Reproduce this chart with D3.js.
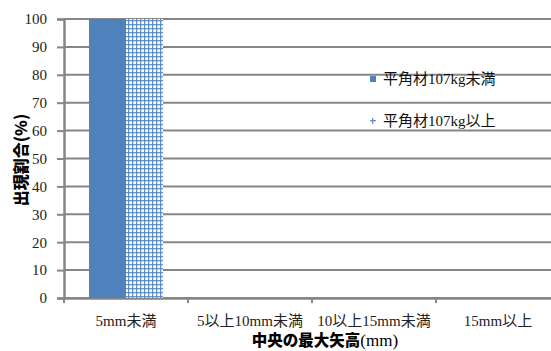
<!DOCTYPE html>
<html><head><meta charset="utf-8">
<script src="https://cdn.jsdelivr.net/npm/d3@7"></script>
<style>body{margin:0;background:#fff}svg{display:block}</style>
</head><body><svg id="c" width="551" height="351"></svg>
<script>
const categories = ["5mm未満", "5以上10mm未満", "10以上15mm未満", "15mm以上"];
const seriesNames = ["平角材107kg未満", "平角材107kg以上"];
const seriesA = [100, 0, 0, 0];
const seriesB = [100, 0, 0, 0];
const yTicks = [0, 10, 20, 30, 40, 50, 60, 70, 80, 90, 100];

(function(){
const svg = d3.select("#c");
const serif = '"Liberation Serif", "Noto Sans CJK JP", serif';
const cjk = '"Noto Sans CJK JP", sans-serif';
const grey = "#868686";
const blue = "#4f81bd";

const defs = svg.append("defs");
const pat = defs.append("pattern").attr("id","grid").attr("patternUnits","userSpaceOnUse")
  .attr("width",4).attr("height",4);
pat.append("rect").attr("width",4).attr("height",4).attr("fill","#fff");
pat.append("rect").attr("x",0).attr("y",0).attr("width",1.3).attr("height",4).attr("fill",blue).attr("opacity",0.85);
pat.append("rect").attr("x",0).attr("y",0).attr("width",4).attr("height",1.3).attr("fill",blue).attr("opacity",0.85);

const mL = 64, mR = 560, mT = 19, mB = 298;
const x = d3.scaleBand().domain(categories).range([mL, mR]);
const y = d3.scaleLinear().domain([0, 100]).range([mB, mT]);

svg.append("g").selectAll("line").data(yTicks).join("line")
  .attr("x1", mL).attr("x2", 551).attr("y1", d => y(d)).attr("y2", d => y(d))
  .attr("stroke", grey).attr("stroke-width", 2);

const yAxis = svg.append("g").attr("transform", `translate(${mL},0)`)
  .call(d3.axisLeft(y).tickValues(yTicks).tickSize(7).tickPadding(10));
yAxis.select(".domain").attr("stroke", grey).attr("stroke-width", 2.5);
yAxis.selectAll(".tick line").attr("stroke", grey).attr("stroke-width", 2);
yAxis.selectAll("text").style("font-family", serif).style("font-size", "15px").attr("fill", "#222");

const xAxis = svg.append("g").attr("transform", `translate(0,${mB})`)
  .call(d3.axisBottom(x).tickSize(0).tickPadding(17));
xAxis.select(".domain").attr("stroke", grey).attr("stroke-width", 2.5);
xAxis.selectAll("text").style("font-family", serif).style("font-size", "15px").attr("fill", "#222");
xAxis.selectAll(".bnd").data(categories.concat([null])).join("line")
  .attr("x1", (d,i) => mL + i * x.step()).attr("x2", (d,i) => mL + i * x.step())
  .attr("y1", 0).attr("y2", 5).attr("stroke", grey).attr("stroke-width", 2);

const bw = 37;
const sub = d3.scaleBand().domain([0,1]).range([0, bw*2]);
const off = (x.bandwidth() - bw*2) / 2;
svg.append("g").selectAll("rect").data(seriesA).join("rect")
  .attr("x", (d,i) => x(categories[i]) + off + sub(0)).attr("width", sub.bandwidth())
  .attr("y", d => y(d)).attr("height", d => y(0) - y(d)).attr("fill", blue);
svg.append("g").selectAll("rect").data(seriesB).join("rect")
  .attr("x", (d,i) => x(categories[i]) + off + sub(1)).attr("width", sub.bandwidth())
  .attr("y", d => y(d)).attr("height", d => y(0) - y(d)).attr("fill", "url(#grid)");

const lg = svg.append("g");
[0,1].forEach(i => {
  const ly = 79 + i * 42;
  lg.append("rect").attr("x", 370).attr("y", ly - 3).attr("width", 6).attr("height", 6)
    .attr("fill", i === 0 ? blue : "url(#grid)");
  lg.append("text").attr("x", 383).attr("y", ly + 5).text(seriesNames[i])
    .style("font-family", serif).style("font-size", "15px").attr("fill", "#111");
});

const xt = svg.append("text").attr("x", 325).attr("y", 346).attr("text-anchor", "middle");
xt.append("tspan").text("中央の最大矢高").style("font-family", cjk).style("font-weight", "900").style("font-size", "15.5px");
xt.append("tspan").text("(mm)").style("font-family", serif).style("font-size", "17px");

svg.append("text").attr("transform", "translate(27,160) rotate(-90)").attr("text-anchor", "middle")
  .style("font-family", cjk).style("font-weight", "900").style("font-size", "16px").text("出現割合(%)");
})();
</script></body></html>
